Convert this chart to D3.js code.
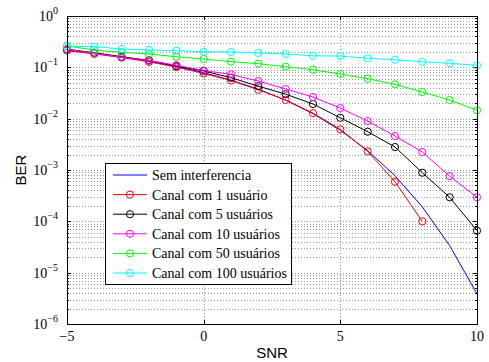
<!DOCTYPE html>
<html>
<head>
<meta charset="utf-8">
<script src="https://cdn.jsdelivr.net/npm/d3@7"></script>
<style>
  html, body { margin: 0; padding: 0; background: #fff; }
  svg { display: block; }
  .serif { font-family: 'Liberation Serif', 'DejaVu Serif', 'Noto Serif', 'Times New Roman', serif; }
  .sans { font-family: 'Liberation Sans', Arial, Helvetica, sans-serif; }
</style>
</head>
<body>
<div id="chart"></div>
<script>
// SNR (dB) and BER per curve
const snr = [-5, -4, -3, -2, -1, 0, 1, 2, 3, 4, 5, 6, 7, 8, 9, 10];
const berSemInterferencia = [0.2132, 0.1861, 0.1584, 0.1306, 0.1040, 0.0786, 0.0563, 0.0375, 0.0229, 0.0125,
  0.00595, 0.00239, 0.000773, 0.000191, 0.0000336, 0.00000387];
const berUsuario1 = [0.212, 0.183, 0.155, 0.128, 0.101, 0.076, 0.0555, 0.0365, 0.0232, 0.0128,
  0.0062, 0.0023, 0.00059, 0.0001];
const berUsuarios5 = [0.225, 0.193, 0.161, 0.137, 0.106, 0.0848, 0.0628, 0.043, 0.030, 0.0193,
  0.0104, 0.00557, 0.0028, 0.000885, 0.000294, 0.0000657];
const berUsuarios10 = [0.225, 0.188, 0.157, 0.135, 0.110, 0.0867, 0.073, 0.054, 0.0379, 0.0264,
  0.0161, 0.0090, 0.0046, 0.00224, 0.00076, 0.000294];
const berUsuarios50 = [0.26, 0.218, 0.196, 0.182, 0.161, 0.145, 0.129, 0.118, 0.103, 0.090,
  0.074, 0.060, 0.0467, 0.033, 0.0231, 0.0146];
const berUsuarios100 = [0.26, 0.252, 0.228, 0.218, 0.211, 0.202, 0.199, 0.190, 0.182, 0.168,
  0.166, 0.150, 0.141, 0.128, 0.120, 0.109];

const seriesNames = ['Sem interferencia', 'Canal com 1 usuário', 'Canal com 5 usuários',
  'Canal com 10 usuários', 'Canal com 50 usuários', 'Canal com 100 usuários'];
const xTicks = [-5, 0, 5, 10];
const yExponents = [0, -1, -2, -3, -4, -5, -6];

const series = [
  { name: seriesNames[0], values: berSemInterferencia, color: '#0000ff', marker: false },
  { name: seriesNames[1], values: berUsuario1, color: '#ff0000', marker: true },
  { name: seriesNames[2], values: berUsuarios5, color: '#000000', marker: true },
  { name: seriesNames[3], values: berUsuarios10, color: '#ff00ff', marker: true },
  { name: seriesNames[4], values: berUsuarios50, color: '#00ff00', marker: true },
  { name: seriesNames[5], values: berUsuarios100, color: '#00ffff', marker: true }
];

const W = 489, H = 362;
const margin = { top: 16, right: 12, bottom: 38, left: 67 };
const width = W - margin.left - margin.right;
const height = H - margin.top - margin.bottom;

const svg = d3.select('#chart').append('svg')
  .attr('width', W).attr('height', H)
  .style('background', '#fff');

const g = svg.append('g').attr('transform', `translate(${margin.left},${margin.top})`);

const x = d3.scaleLinear().domain([-5, 10]).range([0, width]);
const y = d3.scaleLog().domain([1e-6, 1]).range([height, 0]);

const decades = yExponents.map(e => Math.pow(10, e));
const minorY = [];
decades.slice(1).forEach(d => { for (let k = 2; k <= 9; k++) minorY.push(d * k); });

// grid (dotted)
const gridStyle = sel => sel.attr('stroke', '#9a9a9a').attr('stroke-width', 1)
  .attr('stroke-dasharray', '1,2').attr('shape-rendering', 'crispEdges');

g.append('g').selectAll('line').data(minorY.concat(decades)).join('line')
  .attr('x1', 0).attr('x2', width)
  .attr('y1', d => Math.round(y(d)) + 0.5).attr('y2', d => Math.round(y(d)) + 0.5)
  .call(gridStyle);

g.append('g').selectAll('line').data(xTicks).join('line')
  .attr('x1', d => Math.round(x(d)) + 0.5).attr('x2', d => Math.round(x(d)) + 0.5)
  .attr('y1', 0).attr('y2', height)
  .call(gridStyle);

// ticks via axes (inside)
const tickStyle = ax => ax.call(a => a.select('.domain').remove())
  .selectAll('line').attr('stroke', '#000').attr('shape-rendering', 'crispEdges');

g.append('g').attr('transform', `translate(0,${height})`)
  .call(d3.axisBottom(x).tickValues(xTicks).tickSize(-4).tickFormat(''))
  .call(tickStyle);
g.append('g')
  .call(d3.axisTop(x).tickValues(xTicks).tickSize(-4).tickFormat(''))
  .call(tickStyle);
g.append('g')
  .call(d3.axisLeft(y).tickValues(decades).tickSize(-4).tickFormat(''))
  .call(tickStyle);
g.append('g')
  .call(d3.axisLeft(y).tickValues(minorY).tickSize(-2).tickFormat(''))
  .call(tickStyle);
g.append('g').attr('transform', `translate(${width},0)`)
  .call(d3.axisRight(y).tickValues(decades).tickSize(-4).tickFormat(''))
  .call(tickStyle);
g.append('g').attr('transform', `translate(${width},0)`)
  .call(d3.axisRight(y).tickValues(minorY).tickSize(-2).tickFormat(''))
  .call(tickStyle);

// curves
const line = d3.line()
  .x((d, i) => x(snr[i]))
  .y(d => y(d));

series.forEach(s => {
  g.append('path')
    .datum(s.values)
    .attr('fill', 'none')
    .attr('stroke', s.color)
    .attr('stroke-width', 1)
    .attr('d', line);
  if (s.marker) {
    g.append('g').selectAll('circle').data(s.values).join('circle')
      .attr('cx', (d, i) => x(snr[i]))
      .attr('cy', d => y(d))
      .attr('r', 3.6)
      .attr('fill', 'none')
      .attr('stroke', s.color)
      .attr('stroke-width', 1);
  }
});

// box
g.append('rect')
  .attr('x', 0.5).attr('y', 0.5)
  .attr('width', width).attr('height', height)
  .attr('fill', 'none').attr('stroke', '#000').attr('stroke-width', 1)
  .attr('shape-rendering', 'crispEdges');

// x tick labels
g.append('g').selectAll('text').data(xTicks).join('text')
  .attr('class', 'serif')
  .attr('x', d => x(d))
  .attr('y', height + 17)
  .attr('text-anchor', 'middle')
  .attr('font-size', 14)
  .text(d => d < 0 ? '\u2212' + Math.abs(d) : d);

// y tick labels (10^n)
const yl = g.append('g').selectAll('text').data(yExponents).join('text')
  .attr('class', 'serif')
  .attr('x', -9)
  .attr('y', d => y(Math.pow(10, d)) + 5)
  .attr('text-anchor', 'end')
  .attr('font-size', 14);
yl.append('tspan').text('10');
yl.append('tspan').attr('dy', -7).attr('font-size', 10)
  .text(d => d < 0 ? '\u2212' + Math.abs(d) : d);

// axis titles
svg.append('text')
  .attr('class', 'sans')
  .attr('x', margin.left + width / 2).attr('y', H - 4)
  .attr('text-anchor', 'middle')
  .attr('font-size', 15)
  .text('SNR');
svg.append('text')
  .attr('class', 'sans')
  .attr('transform', `translate(26,${margin.top + height / 2}) rotate(-90)`)
  .attr('text-anchor', 'middle')
  .attr('font-size', 15)
  .text('BER');

// legend
const lg = svg.append('g').attr('transform', 'translate(105,163)');
lg.append('rect')
  .attr('x', 0.5).attr('y', 0.5).attr('width', 186).attr('height', 121)
  .attr('fill', '#fff').attr('stroke', '#000').attr('stroke-width', 1)
  .attr('shape-rendering', 'crispEdges');
const rows = lg.selectAll('g.row').data(series).join('g')
  .attr('class', 'row')
  .attr('transform', (d, i) => `translate(0,${12 + i * 19.6})`);
rows.append('line')
  .attr('x1', 8).attr('x2', 42).attr('y1', 0).attr('y2', 0)
  .attr('stroke', d => d.color).attr('stroke-width', 1);
rows.filter(d => d.marker).append('circle')
  .attr('cx', 25).attr('cy', 0).attr('r', 3.6)
  .attr('fill', 'none').attr('stroke', d => d.color).attr('stroke-width', 1);
rows.append('text')
  .attr('class', 'serif')
  .attr('x', 47).attr('y', 5)
  .attr('font-size', 14)
  .text(d => d.name);
</script>
</body>
</html>
